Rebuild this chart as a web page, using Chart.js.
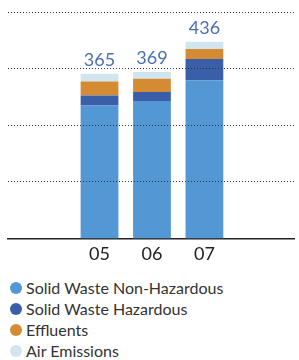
<!DOCTYPE html>
<html lang="en">
<head>
<meta charset="UTF-8" />
<title>Emissions and waste</title>
<script src="https://cdn.jsdelivr.net/npm/chart.js@4.4.1/dist/chart.umd.min.js"></script>
<style>
    * { margin: 0; padding: 0; box-sizing: border-box; }
    body { width: 299px; height: 360px; background: #fff; font-family: Lato, sans-serif; overflow: hidden; }
    .chart-box { position: relative; width: 299px; height: 274px; }
    #legend { padding-left: 10px; padding-top: 3px; }
    #legend .item { display: flex; align-items: center; height: 21px; font-size: 16px; color: #333; }
    #legend .dot { width: 12px; height: 12px; border-radius: 50%; margin-right: 4px; }
</style>
</head>
<body>
<div class="chart-box"><canvas id="chart"></canvas></div>
<div id="legend"></div>

<script>
    const years = ["05", "06", "07"];
    const nonHazardous = [295, 305, 351];
    const hazardous = [22, 20, 47];
    const effluents = [31, 29, 22];
    const airEmissions = [17, 15, 16];

    const seriesNames = ["Solid Waste Non-Hazardous", "Solid Waste Hazardous", "Effluents", "Air Emissions"];
    const seriesColors = ["#5397d4", "#3a5ea8", "#d48b34", "#d2e5ef"];
    const seriesValues = [nonHazardous, hazardous, effluents, airEmissions];

    // bars sit on a linear x scale so the empty space either side can be matched
    const toPoints = vals => vals.map((v, i) => ({ x: i, y: v }));

    // dotted lines at every y tick except the baseline, drawn dot by dot
    const dottedGrid = {
        id: "dottedGrid",
        afterDraw(chart) {
            const { ctx, chartArea, scales } = chart;
            ctx.save();
            ctx.fillStyle = "#333";
            scales.y.ticks.forEach(t => {
                if (t.value === 0) return;
                const y = Math.round(scales.y.getPixelForValue(t.value)) - 1;
                for (let x = Math.round(chartArea.left); x < chartArea.right; x += 3) {
                    ctx.fillRect(x, y, 1, 1);
                }
            });
            ctx.restore();
        }
    };

    const totalsPlugin = {
        id: "totals",
        afterDatasetsDraw(chart) {
            const ctx = chart.ctx;
            const last = chart.getDatasetMeta(seriesValues.length - 1);
            ctx.save();
            ctx.font = "18px Lato, sans-serif";
            ctx.fillStyle = "#4a6eb6";
            ctx.textAlign = "center";
            ctx.textBaseline = "alphabetic";
            last.data.forEach((bar, i) => {
                const total = seriesValues.reduce((s, arr) => s + arr[i], 0);
                ctx.fillText(String(total), bar.x, bar.y - 8);
            });
            ctx.restore();
        }
    };

    new Chart(document.getElementById("chart"), {
        type: "bar",
        data: {
            datasets: seriesValues.map((vals, k) => ({
                label: seriesNames[k],
                data: toPoints(vals),
                backgroundColor: seriesColors[k],
                borderWidth: 0,
                barPercentage: 0.72,
                categoryPercentage: 1,
            })),
        },
        options: {
            responsive: true,
            maintainAspectRatio: false,
            animation: false,
            layout: { padding: { left: 8, right: -1, top: 13, bottom: 4 } },
            plugins: {
                legend: { display: false },
                tooltip: { enabled: false },
            },
            scales: {
                x: {
                    type: "linear",
                    stacked: true,
                    offset: false,
                    min: -1.745,
                    max: 3.708,
                    grid: { display: false, drawTicks: false, tickLength: 0 },
                    border: { display: true, color: "#222", width: 1.5 },
                    ticks: {
                        stepSize: 1,
                        autoSkip: false,
                        maxRotation: 0,
                        padding: 5,
                        color: "#222",
                        font: { family: "Lato", size: 18 },
                        callback: v => (Number.isInteger(v) && years[v] !== undefined ? years[v] : ""),
                    },
                },
                y: {
                    stacked: true,
                    min: 0,
                    max: 500,
                    ticks: { display: false, stepSize: 125 },
                    grid: { display: false, drawTicks: false },
                    border: { display: false },
                },
            },
        },
        plugins: [dottedGrid, totalsPlugin],
    });

    // legend built from the same series arrays
    const legend = document.getElementById("legend");
    seriesNames.forEach((name, k) => {
        const row = document.createElement("div");
        row.className = "item";
        row.innerHTML = `<span class="dot" style="background:${seriesColors[k]}"></span><span>${name}</span>`;
        legend.appendChild(row);
    });
</script>
</body>
</html>
